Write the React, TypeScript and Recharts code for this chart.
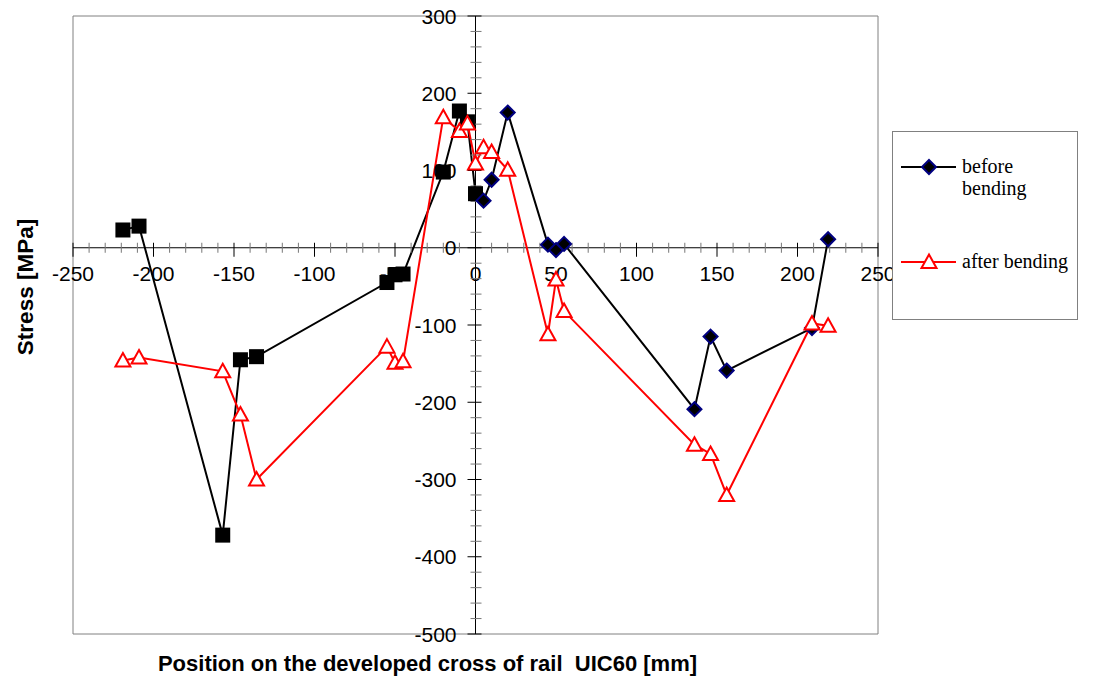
import React from 'react';
import {
  LineChart,
  Line,
  XAxis,
  YAxis,
  ReferenceLine,
  ReferenceDot,
  ReferenceArea,
  Legend,
} from 'recharts';

// ---- data ----
const positions = [-219, -209, -157, -146, -136, -55, -50, -45, -20, -10, -5, 0, 5, 10, 20, 45, 50, 55, 136, 146, 156, 209, 219];
const beforeBending = [23, 28, -372, -145, -141, -45, -35, -34, 98, 177, 163, 70, 61, 88, 175, 4, -3, 5, -209, -115, -159, -104, 11];
const afterBending = [-146, -142, -160, -216, -300, -128, -149, -147, 169, 151, 161, 109, 130, 124, 101, -112, -41, -82, -255, -267, -320, -98, -101];
const seriesNames = ['before bending', 'after bending'];

const xTickLabels = [-250, -200, -150, -100, -50, 0, 50, 100, 150, 200, 250];
const yTickLabels = [300, 200, 100, 0, -100, -200, -300, -400, -500];
const xMinorStep = 10;
const yMinorStep = 20;
const xDomain = [-250, 250];
const yDomain = [-500, 300];

const xTitle = 'Position on the developed cross of rail  UIC60 [mm]';
const yTitle = 'Stress [MPa]';

const beforeData = positions.map((x, i) => ({ x, y: beforeBending[i] }));
const afterData = positions.map((x, i) => ({ x, y: afterBending[i] }));

const xMinorTicks: number[] = [];
for (let v = xDomain[0]; v <= xDomain[1]; v += xMinorStep) xMinorTicks.push(v);
const yMinorTicks: number[] = [];
for (let v = yDomain[0]; v <= yDomain[1]; v += yMinorStep) yMinorTicks.push(v);

const SANS = "'Liberation Sans', Arial, sans-serif";
const SERIF = "'Liberation Serif', 'Times New Roman', serif";

// ---- markers ----
const Square = ({ cx, cy }: { cx: number; cy: number }) => (
  <rect x={cx - 7.5} y={cy - 7.5} width={15} height={15} fill="#000" />
);
const Diamond = ({ cx, cy }: { cx: number; cy: number }) => (
  <polygon
    points={`${cx},${cy - 7} ${cx + 7},${cy} ${cx},${cy + 7} ${cx - 7},${cy}`}
    fill="#000"
    stroke="#000080"
    strokeWidth={2}
  />
);
const Triangle = ({ cx, cy }: { cx: number; cy: number }) => (
  <polygon
    points={`${cx},${cy - 7.5} ${cx + 7.5},${cy + 6} ${cx - 7.5},${cy + 6}`}
    fill="#fff"
    stroke="#ff0000"
    strokeWidth={2}
  />
);

const renderBeforeDot = (props: any) => {
  const { cx, cy, payload, index } = props;
  if (cx == null || cy == null) return <g key={`b${index}`} />;
  return (
    <g key={`b${index}`}>
      {payload.x <= 0 ? <Square cx={cx} cy={cy} /> : <Diamond cx={cx} cy={cy} />}
    </g>
  );
};
const renderAfterDot = (props: any) => {
  const { cx, cy, index } = props;
  if (cx == null || cy == null) return <g key={`a${index}`} />;
  return (
    <g key={`a${index}`}>
      <Triangle cx={cx} cy={cy} />
    </g>
  );
};

// ---- axis ticks drawn at the crossing axes ----
const xTickShape = (v: number) => (props: any) => {
  const { cx, cy } = props;
  const major = v % 50 === 0;
  return (
    <g>
      <line x1={cx} x2={cx} y1={cy - 5} y2={cy + (major ? 9 : 5)} stroke={major ? '#000' : '#777'} strokeWidth={1} />
      {xTickLabels.includes(v) ? (
        <text x={cx} y={cy + 33} textAnchor="middle" fontFamily={SANS} fontSize={21} fill="#000">
          {v}
        </text>
      ) : null}
    </g>
  );
};

const yTickShape = (v: number) => (props: any) => {
  const { cx, cy } = props;
  const major = v % 100 === 0;
  return (
    <g>
      <line x1={cx - (major ? 8 : 5)} x2={cx + 6} y1={cy} y2={cy} stroke={major ? '#000' : '#777'} strokeWidth={1} />
      {yTickLabels.includes(v) ? (
        <text x={cx - 19} y={cy} dy="0.36em" textAnchor="end" fontFamily={SANS} fontSize={21} fill="#000">
          {v}
        </text>
      ) : null}
    </g>
  );
};

const XTitle = (props: any) => {
  const vb = props.viewBox || { x: 73, y: 634, width: 805, height: 47 };
  return (
    <text
      x={vb.x + vb.width / 2 - 48}
      y={vb.y + 37}
      textAnchor="middle"
      fontFamily={SANS}
      fontWeight="bold"
      fontSize={22}
      fill="#000"
      style={{ whiteSpace: 'pre' }}
      xmlSpace="preserve"
    >
      {xTitle}
    </text>
  );
};

const YTitle = (props: any) => {
  const vb = props.viewBox || { x: 0, y: 16, width: 73, height: 618 };
  const x = vb.x + 33;
  const y = vb.y + vb.height / 2 - 38;
  return (
    <text
      x={x}
      y={y}
      transform={`rotate(-90, ${x}, ${y})`}
      textAnchor="middle"
      fontFamily={SANS}
      fontWeight="bold"
      fontSize={22.5}
      fill="#000"
    >
      {yTitle}
    </text>
  );
};

const LegendBox = () => (
  <div
    style={{
      width: 186,
      height: 189,
      boxSizing: 'border-box',
      border: '1px solid #808080',
      background: '#fff',
    }}
  >
    <svg width={184} height={187} style={{ display: 'block' }}>
      <line x1={8} x2={63} y1={35} y2={35} stroke="#000" strokeWidth={2} />
      <Diamond cx={36} cy={35} />
      <text x={69} y={41} fontFamily={SERIF} fontSize={20} fill="#000">
        {seriesNames[0].split(' ')[0]}
      </text>
      <text x={69} y={63} fontFamily={SERIF} fontSize={20} fill="#000">
        {seriesNames[0].split(' ')[1]}
      </text>
      <line x1={8} x2={63} y1={130} y2={130} stroke="#ff0000" strokeWidth={2} />
      <Triangle cx={36} cy={130} />
      <text x={69} y={136} fontFamily={SERIF} fontSize={20} fill="#000">
        {seriesNames[1]}
      </text>
    </svg>
  </div>
);

export default function App() {
  return (
    <div style={{ position: 'absolute', left: 0, top: 0, width: 1106, height: 681, background: '#fff' }}>
      <LineChart width={1106} height={681} margin={{ top: 16, right: 228, bottom: 0, left: 0 }}>
        <XAxis
          dataKey="x"
          type="number"
          domain={xDomain}
          allowDataOverflow
          height={47}
          axisLine={false}
          tickLine={false}
          tick={false}
          label={XTitle}
        />
        <YAxis
          dataKey="y"
          type="number"
          domain={yDomain}
          allowDataOverflow
          width={73}
          axisLine={false}
          tickLine={false}
          tick={false}
          label={YTitle}
        />
        <ReferenceArea
          x1={xDomain[0]}
          x2={xDomain[1]}
          y1={yDomain[0]}
          y2={yDomain[1]}
          fill="none"
          stroke="#808080"
          strokeWidth={1}
        />
        <ReferenceLine y={0} stroke="#000" strokeWidth={1} />
        <ReferenceLine x={0} stroke="#000" strokeWidth={1} />
        {xMinorTicks.map((v) => (
          <ReferenceDot key={`xt${v}`} x={v} y={0} r={1} shape={xTickShape(v)} />
        ))}
        {yMinorTicks.map((v) => (
          <ReferenceDot key={`yt${v}`} x={0} y={v} r={1} shape={yTickShape(v)} />
        ))}
        <Legend
          layout="vertical"
          align="center"
          verticalAlign="middle"
          wrapperStyle={{ left: 892, top: 131, width: 186, height: 189, margin: 0, padding: 0 }}
          content={LegendBox}
        />
        <Line
          name={seriesNames[0]}
          data={beforeData}
          dataKey="y"
          stroke="#000"
          strokeWidth={2}
          dot={renderBeforeDot}
          activeDot={false}
          isAnimationActive={false}
        />
        <Line
          name={seriesNames[1]}
          data={afterData}
          dataKey="y"
          stroke="#ff0000"
          strokeWidth={2}
          dot={renderAfterDot}
          activeDot={false}
          isAnimationActive={false}
        />
      </LineChart>
    </div>
  );
}
